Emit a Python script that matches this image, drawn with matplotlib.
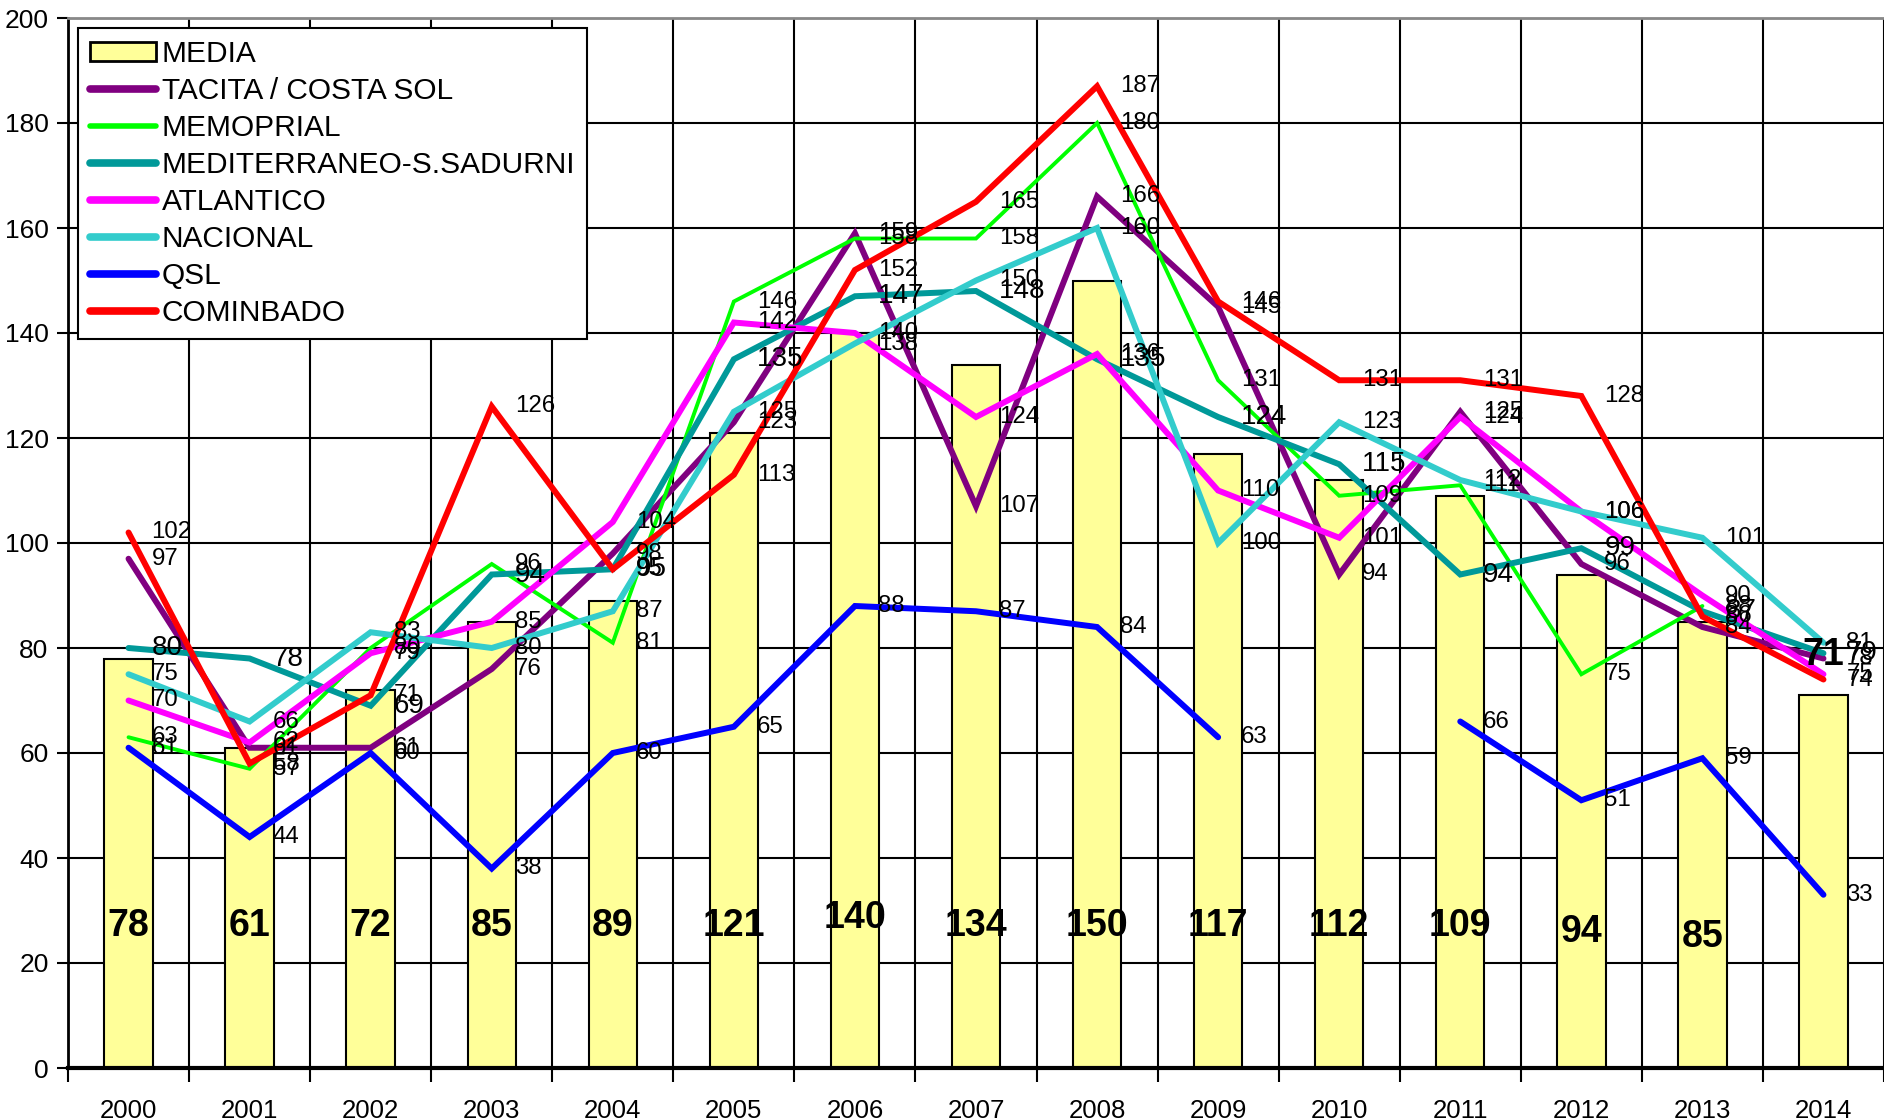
import numpy as np
import matplotlib
matplotlib.use("Agg")
import matplotlib.pyplot as plt
from matplotlib import font_manager
from matplotlib.patches import Patch
from matplotlib.lines import Line2D

# --- data ---
years = ["2000", "2001", "2002", "2003", "2004", "2005", "2006", "2007",
         "2008", "2009", "2010", "2011", "2012", "2013", "2014"]

media = [78, 61, 72, 85, 89, 121, 140, 134, 150, 117, 112, 109, 94, 85, 71]

tacita = [97, 61, 61, 76, 98, 123, 159, 107, 166, 145, 94, 125, 96, 84, 78]
memoprial = [63, 57, 80, 96, 81, 146, 158, 158, 180, 131, 109, 111, 75, 88, None]
mediterraneo = [80, 78, 69, 94, 95, 135, 147, 148, 135, 124, 115, 94, 99, 87, 79]
atlantico = [70, 62, 79, 85, 104, 142, 140, 124, 136, 110, 101, 124, 106, 90, 75]
nacional = [75, 66, 83, 80, 87, 125, 138, 150, 160, 100, 123, 112, 106, 101, 81]
qsl = [61, 44, 60, 38, 60, 65, 88, 87, 84, 63, None, 66, 51, 59, 33]
cominbado = [102, 58, 71, 126, 95, 113, 152, 165, 187, 146, 131, 131, 128, 86, 74]

series = [
    ("TACITA / COSTA SOL", tacita, "#800080", 4.3, 17.3),
    ("MEMOPRIAL", memoprial, "#00FF00", 2.8, 17.3),
    ("MEDITERRANEO-S.SADURNI", mediterraneo, "#009999", 4.3, 20),
    ("ATLANTICO", atlantico, "#FF00FF", 4.3, 17.3),
    ("NACIONAL", nacional, "#33CCCC", 4.3, 17.3),
    ("QSL", qsl, "#0000FF", 4.3, 17.3),
    ("COMINBADO", cominbado, "#FF0000", 4.3, 17.3),
]

# heights where the bold MEDIA labels sit (layout, as placed in the original)
bar_label_y = [27, 27, 27, 27, 27, 27, 28.5, 27, 27, 27, 27, 27, 26, 25, 78.7]

# narrow font for ticks/legend if available
names = {f.name for f in font_manager.fontManager.ttflist}
if "Liberation Sans Narrow" in names:
    narrow, tick_fs, leg_fs = "Liberation Sans Narrow", 22, 25
else:
    narrow, tick_fs, leg_fs = "Liberation Sans", 18.5, 21.5
plt.rcParams["font.family"] = ["Liberation Sans", "DejaVu Sans"]

fig = plt.figure(figsize=(18.84, 11.19), dpi=100)
ax = fig.add_axes([68 / 1884, 51 / 1119, 1816 / 1884, 1050 / 1119])

x = np.arange(len(years))

ax.bar(x, media, width=0.4, color="#FFFF99", edgecolor="black",
       linewidth=1.5, zorder=2)

for i, (v, ly) in enumerate(zip(media, bar_label_y)):
    ax.text(i, ly, str(v), ha="center", va="center", fontsize=27,
            fontweight="bold", zorder=6)

for name, vals, color, lw, fs in series:
    y = np.array([np.nan if v is None else v for v in vals], dtype=float)
    ax.plot(x, y, color=color, linewidth=lw, solid_capstyle="round",
            solid_joinstyle="miter", zorder=3)
    for i, v in enumerate(vals):
        if v is None:
            continue
        ax.annotate(str(v), (i, v), xytext=(16.5, 0), textcoords="offset points",
                    ha="left", va="center", fontsize=fs, zorder=5)

ax.set_xlim(-0.5, len(years) - 0.5)
ax.set_ylim(0, 200)

# grid: horizontal every 20, vertical at category boundaries
ax.set_yticks(np.arange(0, 201, 20))
ax.set_xticks(x)
ax.set_xticklabels(years, fontsize=tick_fs, family=narrow)
ax.set_xticks(np.arange(-0.5, len(years), 1), minor=True)
ax.tick_params(axis="x", which="major", length=0, pad=22)
ax.tick_params(axis="x", which="minor", length=10, width=1.5, direction="out")
ax.tick_params(axis="y", length=8, width=1.5, direction="out", pad=6)
for lab in ax.get_yticklabels():
    lab.set_fontsize(tick_fs + 0.5)
    lab.set_family(narrow)

ax.grid(True, axis="y", which="major", color="black", linewidth=1.5)
ax.grid(True, axis="x", which="minor", color="black", linewidth=1.5)
ax.set_axisbelow(True)

ax.spines["bottom"].set_linewidth(3)
ax.spines["left"].set_linewidth(2)
ax.spines["top"].set_color("#888888")
ax.spines["top"].set_linewidth(2)
ax.spines["right"].set_visible(False)

handles = [Patch(facecolor="#FFFF99", edgecolor="black", linewidth=2)]
labels = ["MEDIA"]
for name, vals, color, lw, fs in series:
    handles.append(Line2D([], [], color=color, linewidth=lw + 1.2,
                          solid_capstyle="round"))
    labels.append(name)

leg = ax.legend(handles, labels, loc="upper left",
                bbox_to_anchor=(10 / 1816, 1 - 10 / 1050),
                prop={"family": narrow, "size": leg_fs},
                frameon=True, fancybox=False, framealpha=1,
                edgecolor="black", borderpad=0.4, labelspacing=0.3,
                handlelength=2.2, handleheight=0.6, handletextpad=0.2,
                borderaxespad=0)
leg.get_frame().set_linewidth(1.5)
leg.set_zorder(10)

fig.savefig("out.png", dpi=100)
